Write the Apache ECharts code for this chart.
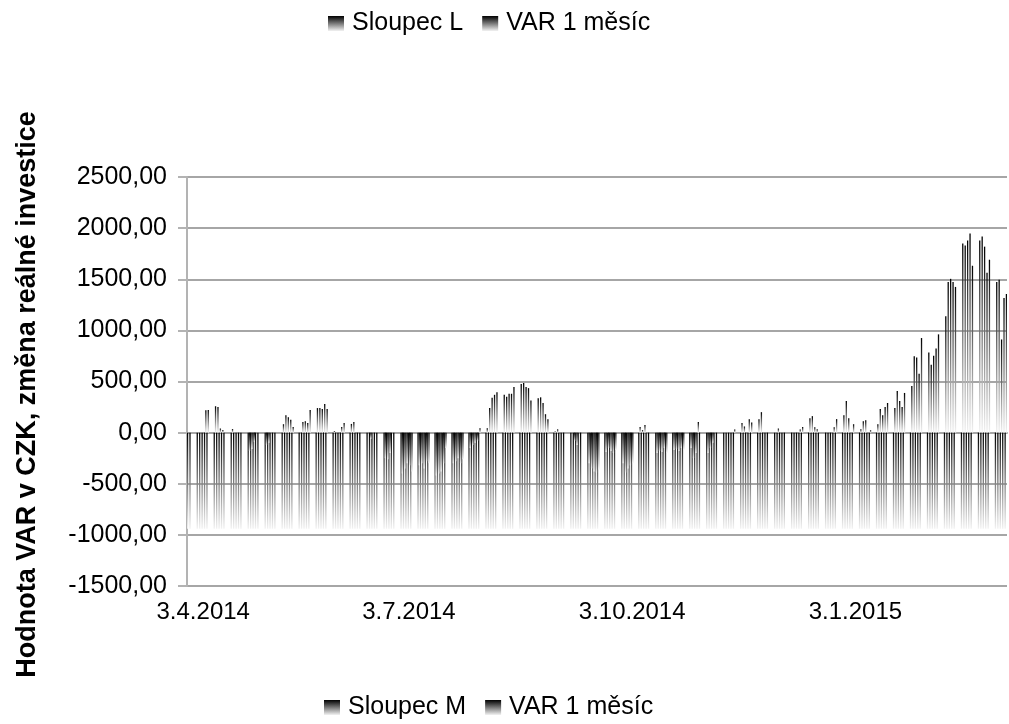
<!DOCTYPE html>
<html>
<head>
<meta charset="utf-8">
<script src="https://cdn.jsdelivr.net/npm/echarts@6/dist/echarts.min.js"></script>
<style>
html, body { margin: 0; padding: 0; background: #fff; }
#chart { width: 1009px; height: 724px; }
</style>
</head>
<body>
<div id="chart"></div>
<script>
// osa x: kalendářní dny, sloupce jen v pracovní dny
const startDate = [2014, 4, 3];
const endDate = [2015, 3, 6];
const tickLabels = ['3.4.2014', '3.7.2014', '3.10.2014', '3.1.2015'];

// změna reálné investice po týdnech (po-pá), první řádek je čt-pá
const zmena = [
  [0, 0],
  [0, 0, 0, 220, 222],
  [258, 250, 40, 25, 0],
  [35, 0, 0, 0, 0],
  [-180, -160, -90, 0, 0],
  [-120, -100, 0, 0, 0],
  [82, 170, 150, 125, 55],
  [0, 105, 112, 95, 222],
  [240, 240, 230, 280, 230],
  [15, 0, 0, 55, 95],
  [85, 105, 0, 0, 0],
  [0, -60, 0, 0, 0],
  [-250, -260, -200, 0, 0],
  [-400, -350, -300, -320, -380],
  [-320, -300, -350, -280, -300],
  [-420, -400, -380, -300, -150],
  [-300, -280, -250, -300, -260],
  [-150, -120, -100, -80, 42],
  [42, 240, 340, 370, 395],
  [370, 350, 380, 380, 445],
  [475, 485, 445, 435, 315],
  [335, 345, 290, 180, 130],
  [12, 32, 0, 0, 0],
  [0, -80, -120, 0, 0],
  [-300, -350, -380, -390, -360],
  [-190, -150, -180, -200, -170],
  [-300, -390, -350, -320, -300],
  [55, 25, 75, 0, 0],
  [-200, -180, -190, -150, -200],
  [-170, -160, -180, -150, -170],
  [-150, -250, -200, 105, 0],
  [-200, -150, -100, 0, 0],
  [0, 0, 0, 0, 30],
  [95, 60, 0, 130, 100],
  [130, 200, 0, 0, 0],
  [0, 40, 0, 0, 0],
  [0, 0, 0, 30, 55],
  [141, 161, 53, 33, 0],
  [0, 0, 0, 53, 132],
  [171, 309, 141, 0, 82],
  [33, 112, 122, 0, 23],
  [82, 230, 171, 250, 290],
  [240, 408, 309, 250, 388],
  [457, 747, 734, 576, 925],
  [783, 665, 753, 822, 961],
  [1138, 1474, 1504, 1474, 1425],
  [1849, 1829, 1879, 1948, 1632],
  [1879, 1918, 1819, 1563, 1691],
  [1474, 1494, 911, 1316, 1355]
];

// VAR 1 měsíc po týdnech
const var1m = [
  [-940, -940],
  [-940, -940, -940, -940, -940], [-940, -940, -940, -940, -940], [-940, -940, -940, -940, -940],
  [-940, -940, -940, -940, -940], [-940, -940, -940, -940, -940], [-940, -940, -940, -940, -940],
  [-940, -940, -940, -940, -940], [-940, -940, -940, -940, -940], [-940, -940, -940, -940, -940],
  [-940, -940, -940, -940, -940], [-940, -940, -940, -940, -940], [-940, -940, -940, -940, -940],
  [-940, -940, -940, -940, -940], [-940, -940, -940, -940, -940], [-940, -940, -940, -940, -940],
  [-940, -940, -940, -940, -940], [-940, -940, -940, -940, -940], [-940, -940, -940, -940, -940],
  [-940, -940, -940, -940, -940], [-940, -940, -940, -940, -940], [-940, -940, -940, -940, -940],
  [-940, -940, -940, -940, -940], [-940, -940, -940, -940, -940], [-940, -940, -940, -940, -940],
  [-940, -940, -940, -940, -940], [-940, -940, -940, -940, -940], [-940, -940, -940, -940, -940],
  [-940, -940, -940, -940, -940], [-940, -940, -940, -940, -940], [-940, -940, -940, -940, -940],
  [-940, -940, -940, -940, -940], [-940, -940, -940, -940, -940], [-940, -940, -940, -940, -940],
  [-940, -940, -940, -940, -940], [-940, -940, -940, -940, -940], [-940, -940, -940, -940, -940],
  [-940, -940, -940, -940, -940], [-940, -940, -940, -940, -940], [-940, -940, -940, -940, -940],
  [-940, -940, -940, -940, -940], [-940, -940, -940, -940, -940], [-940, -940, -940, -940, -940],
  [-940, -940, -940, -940, -940], [-940, -940, -940, -940, -940], [-940, -940, -940, -940, -940],
  [-940, -940, -940, -940, -940], [-940, -940, -940, -940, -940], [-940, -940, -940, -940, -940]
];

var days = [];
var varData = [];
var zmenaData = [];
var zm = zmena.flat();
var vr = var1m.flat();
var t = 0;
var end = new Date(Date.UTC(endDate[0], endDate[1] - 1, endDate[2]));
for (var dt = new Date(Date.UTC(startDate[0], startDate[1] - 1, startDate[2])); dt <= end; dt.setUTCDate(dt.getUTCDate() + 1)) {
  days.push(dt.getUTCDate() + '.' + (dt.getUTCMonth() + 1) + '.' + dt.getUTCFullYear());
  var wd = dt.getUTCDay();
  if (wd === 0 || wd === 6) {
    varData.push(null);
    zmenaData.push(null);
  } else {
    varData.push(vr[t]);
    zmenaData.push(zm[t]);
    t++;
  }
}

function fade() {
  return new echarts.graphic.LinearGradient(0, 0, 0, 1, [
    { offset: 0, color: '#000000' },
    { offset: 1, color: '#f2f2f2' }
  ]);
}

var font = 'Liberation Sans';
var chart = echarts.init(document.getElementById('chart'));
chart.setOption({
  animation: false,
  textStyle: { fontFamily: font },
  legend: [
    {
      data: ['Sloupec L', 'VAR 1 měsíc'],
      top: 11, left: 328, padding: 0,
      icon: 'rect',
      itemWidth: 16, itemHeight: 15, itemGap: 19,
      textStyle: { fontSize: 25, color: '#000', fontFamily: font, padding: [0, 0, 0, 3] }
    },
    {
      data: ['Sloupec M', 'VAR 1 měsíc'],
      top: 695, left: 324, padding: 0,
      icon: 'rect',
      itemWidth: 16, itemHeight: 15, itemGap: 19,
      textStyle: { fontSize: 25, color: '#000', fontFamily: font, padding: [0, 0, 0, 3] }
    }
  ],
  grid: { left: 187, right: 2, top: 177, bottom: 138, containLabel: false, outerBoundsMode: 'none' },
  xAxis: {
    type: 'category',
    data: days,
    boundaryGap: true,
    axisLine: { show: true, lineStyle: { color: '#a6a6a6', width: 2 } },
    axisTick: { show: false },
    axisLabel: {
      interval: function (i, v) { return tickLabels.indexOf(v) >= 0; },
      formatter: function (v, i) { return i === 0 ? '{a|' + v + '}' : v; },
      rich: { a: { fontSize: 24, color: '#000', fontFamily: font, padding: [0, 0, 0, 30] } },
      fontSize: 24, color: '#000', margin: 14, fontFamily: font
    },
    splitLine: { show: false }
  },
  yAxis: {
    type: 'value',
    min: -1500, max: 2500, interval: 500,
    name: 'Hodnota VAR v CZK, změna reálné investice',
    nameLocation: 'middle',
    nameGap: 146,
    nameTextStyle: { fontSize: 27, fontWeight: 'bold', color: '#000', fontFamily: font, padding: [0, 26, 0, 0] },
    axisLine: { show: true, lineStyle: { color: '#b3b3b3', width: 2 } },
    axisTick: { show: true, length: 9, lineStyle: { color: '#b3b3b3', width: 2 } },
    axisLabel: {
      fontSize: 25, color: '#000', margin: 20, fontFamily: font,
      formatter: function (v) { return v.toFixed(2).replace('.', ','); }
    },
    splitLine: { show: true, lineStyle: { color: '#a6a6a6', width: 2 } }
  },
  series: [
    {
      name: 'VAR 1 měsíc',
      type: 'bar',
      data: varData,
      barWidth: 1.3,
      barGap: '0%',
      itemStyle: { color: fade() }
    },
    {
      name: 'Sloupec L',
      type: 'bar',
      stack: 'zm',
      data: zmenaData,
      barWidth: 1.3,
      itemStyle: { color: fade() }
    },
    {
      name: 'Sloupec M',
      type: 'bar',
      stack: 'zm',
      data: [],
      barWidth: 1.3,
      itemStyle: { color: fade() }
    }
  ]
});
</script>
</body>
</html>
